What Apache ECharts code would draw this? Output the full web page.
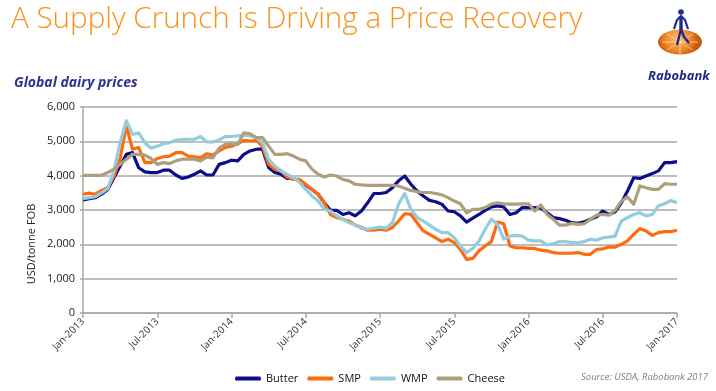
<!DOCTYPE html>
<html>
<head>
<meta charset="utf-8">
<script src="https://cdn.jsdelivr.net/npm/echarts@6/dist/echarts.min.js"></script>
<style>
html,body{margin:0;padding:0;background:#fff;}
#chart{width:716px;height:391px;}
</style>
</head>
<body>
<div id="chart"></div>
<script>
// Semi-monthly observations, Jan-2013 .. Jan-2017
var monthNames = ['Jan','Feb','Mar','Apr','May','Jun','Jul','Aug','Sep','Oct','Nov','Dec'];
var categories = [];
for (var y = 2013; y <= 2017; y++) {
  for (var m = 0; m < 12; m++) {
    if (y === 2017 && m > 0) break;
    categories.push(monthNames[m] + '-' + y + ' a');
    if (!(y === 2017)) categories.push(monthNames[m] + '-' + y + ' b');
  }
}
var tickLabels = ['Jan-2013','Jul-2013','Jan-2014','Jul-2014','Jan-2015','Jul-2015','Jan-2016','Jul-2016','Jan-2017'];

var butter = [3290,3330,3360,3460,3600,3940,4280,4620,4670,4230,4110,4090,4090,4160,4160,4020,3920,3960,4040,4140,4020,4020,4330,4380,4450,
  4430,4620,4720,4770,4780,4240,4090,4040,3920,3920,3850,3720,3600,3460,3210,2990,2990,2870,2920,2830,2970,3210,3480,3480,
  3510,3650,3850,3990,3750,3550,3410,3280,3240,3170,2970,2950,2830,2650,2760,2870,2990,3090,3120,3090,2870,2920,3070,3070,
  3070,3050,2920,2780,2750,2700,2630,2610,2660,2730,2800,2970,2870,2950,3210,3550,3940,3920,3990,4060,4140,4380,4380,4410];
var smp = [3460,3490,3460,3570,3650,3990,4500,5450,4770,4820,4380,4380,4500,4550,4570,4670,4670,4570,4550,4520,4640,4600,4720,4820,4860,
  4930,5030,5010,5030,4860,4330,4190,4140,3960,3890,3890,3750,3600,3460,3210,2870,2780,2730,2680,2560,2490,2410,2410,2440,
  2410,2490,2680,2890,2870,2630,2390,2290,2190,2080,2150,2050,1850,1560,1590,1810,1950,2080,2650,2600,1950,1900,1900,1880,
  1880,1830,1810,1760,1740,1740,1740,1760,1710,1710,1850,1870,1920,1920,2000,2100,2290,2460,2390,2260,2340,2370,2370,2410];
var wmp = [3330,3360,3390,3500,3620,4140,4960,5600,5200,5250,4960,4800,4860,4930,4960,5030,5050,5060,5060,5140,4980,4980,5040,5140,5140,
  5160,5180,5160,5110,4960,4480,4280,4140,4040,3940,3800,3600,3410,3260,3020,2970,2830,2730,2630,2560,2470,2440,2470,2500,
  2470,2630,3170,3480,3020,2780,2680,2560,2440,2340,2340,2190,1950,1760,1880,2100,2440,2730,2580,2150,2240,2260,2240,2120,
  2100,2100,1980,2020,2080,2080,2050,2050,2080,2150,2120,2190,2210,2240,2680,2780,2870,2920,2830,2870,3120,3180,3280,3210];
var cheese = [4010,4010,4010,4010,4090,4190,4330,4480,4620,4620,4600,4500,4330,4380,4350,4430,4480,4480,4480,4430,4540,4520,4800,4910,4930,
  4910,5250,5220,5110,5110,4860,4620,4620,4640,4570,4480,4430,4190,4040,3960,4020,3990,3890,3850,3750,3730,3720,3720,3720,
  3720,3720,3700,3630,3570,3530,3510,3510,3480,3440,3360,3260,3180,2920,3020,3020,3070,3170,3210,3180,3170,3170,3180,3180,
  2970,3150,2870,2730,2560,2560,2610,2580,2600,2730,2850,2870,2850,2990,3260,3380,3170,3700,3650,3600,3600,3770,3750,3750];

var seriesNames = ['Butter','SMP','WMP','Cheese'];
var seriesColors = ['#0D0D8A','#FF6A0D','#93CDDD','#AE9F7C'];
var seriesData = [butter, smp, wmp, cheese];

var chart = echarts.init(document.getElementById('chart'), null, {renderer:'canvas'});
var gridColor = '#A8A8A8';
var option = {
  animation:false,
  backgroundColor:'#ffffff',
  textStyle:{fontFamily:'Open Sans'},
  grid:{left:83, right:39, top:107, bottom:78, containLabel:false},
  xAxis:{
    type:'category', data:categories, boundaryGap:false,
    axisLine:{lineStyle:{color:gridColor, width:1.5}},
    axisTick:{show:true, length:5, interval:function(i){return i%12===0;}, lineStyle:{color:gridColor, width:1.5}},
    axisLabel:{interval:function(i){return i%12===0;}, rotate:45, margin:7, fontSize:10, color:'#333',
      fontFamily:'Open Sans',
      formatter:function(v, i){ return tickLabels[Math.round(i/12)]; }},
    splitLine:{show:false}
  },
  yAxis:{
    type:'value', min:0, max:6000, interval:1000,
    axisLine:{show:true, lineStyle:{color:gridColor, width:1.5}},
    axisTick:{show:true, length:3, lineStyle:{color:gridColor, width:1.5}},
    axisLabel:{fontSize:11, color:'#222', margin:8, fontFamily:'Open Sans',
      formatter:function(v){ return v===0 ? '0' : (v/1000) + ',000'; }},
    splitLine:{lineStyle:{color:gridColor, width:1.5}}
  },
  legend:{
    data:seriesNames, left:230, top:368, itemWidth:26, itemHeight:10, itemGap:9,
    textStyle:{fontSize:11, color:'#111', fontFamily:'Open Sans'},
    icon:'path://M1,3 L25,3 Q26.5,5 25,7 L1,7 Q-0.5,5 1,3 Z'
  },
  series: seriesNames.map(function(n, k){
    return {name:n, type:'line', data:seriesData[k], symbol:'none', smooth:false,
      lineStyle:{color:seriesColors[k], width:3.2, join:'round'}, itemStyle:{color:seriesColors[k]}};
  }),
  graphic:[
    {type:'text', left:11, top:5, style:{text:'A Supply Crunch is Driving a Price Recovery', fill:'#F7941E',
      font:'300 29.6px "Open Sans"'}},
    {type:'text', left:14, top:76, style:{text:'Global dairy prices', fill:'#2E3192',
      font:'italic bold 14px "Open Sans"'}},
    {type:'text', x:32, y:244, rotation:Math.PI/2, style:{text:'USD/tonne FOB', fill:'#222',
      font:'11px "Open Sans"', align:'center', verticalAlign:'middle'}},
    {type:'text', right:8, top:372, style:{text:'Source: USDA, Rabobank 2017', fill:'#7F7F7F',
      font:'italic 9.5px "Open Sans"'}},
    // Rabobank logo
    {type:'ellipse', shape:{cx:680, cy:42, rx:22, ry:12.5},
      style:{fill:new echarts.graphic.RadialGradient(0.45,0.35,0.8,[{offset:0,color:'#FDBB6A'},{offset:0.6,color:'#F08A2A'},{offset:1,color:'#C85A10'}])}},
    {type:'polyline', shape:{points:[[662,42],[698,42]]}, style:{stroke:'#FFE2B8', lineWidth:0.8, fill:null}},
    {type:'polyline', shape:{points:[[680,30],[680,54]]}, style:{stroke:'#FFE2B8', lineWidth:0.8, fill:null}},
    {type:'polyline', shape:{points:[[667,34],[693,50]]}, style:{stroke:'#FFE2B8', lineWidth:0.6, fill:null}},
    {type:'polyline', shape:{points:[[693,34],[667,50]]}, style:{stroke:'#FFE2B8', lineWidth:0.6, fill:null}},
    {type:'circle', shape:{cx:681, cy:12, r:2.8}, style:{fill:'#1F2A8A'}},
    {type:'polyline', shape:{points:[[674,29],[677,20],[681,16],[685,20],[688,29]]}, style:{stroke:'#1F2A8A', lineWidth:2.2, fill:null, lineJoin:'round'}},
    {type:'polyline', shape:{points:[[681,16],[681,30]]}, style:{stroke:'#1F2A8A', lineWidth:3.4, fill:null}},
    {type:'polyline', shape:{points:[[677,45],[679,37],[681,29],[684,37],[689,43]]}, style:{stroke:'#1F2A8A', lineWidth:2.4, fill:null, lineJoin:'round'}},
    {type:'text', left:648, top:70, style:{text:'Rabobank', fill:'#1F2A8A', font:'italic bold 13px "Open Sans"'}}
  ]
};
chart.setOption(option);
</script>
</body>
</html>
